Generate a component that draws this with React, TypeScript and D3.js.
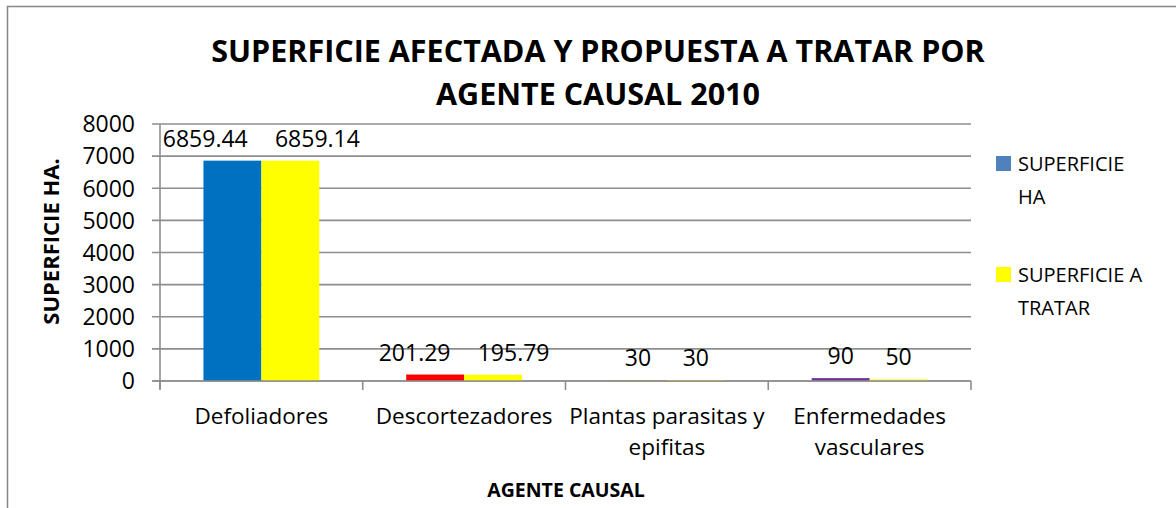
import React from "react";
import * as d3 from "d3";

const categories = [
  ["Defoliadores"],
  ["Descortezadores"],
  ["Plantas parasitas y", "epifitas"],
  ["Enfermedades", "vasculares"],
];
const seriesNames = [["SUPERFICIE", "HA"], ["SUPERFICIE A", "TRATAR"]];
const superficieHa = [6859.44, 201.29, 30, 90];
const superficieTratar = [6859.14, 195.79, 30, 50];
const labelsHa = ["6859.44", "201.29", "30", "90"];
const labelsTratar = ["6859.14", "195.79", "30", "50"];
const yTicks = [0, 1000, 2000, 3000, 4000, 5000, 6000, 7000, 8000];
const pointColorsHa = ["#0070C0", "#FF0000", "#C09A3C", "#7030A0"];
const seriesColors = ["#4F81BD", "#FFFF00"];

const W = 1176, H = 508;
const plot = { left: 160, right: 971, top: 124, bottom: 381 };
const FONT = "'Open Sans', sans-serif";

export default function App() {
  const x0 = d3.scaleBand<number>().domain(d3.range(categories.length)).range([plot.left, plot.right]).paddingInner(0).paddingOuter(0);
  const bw = x0.bandwidth();
  const barW = bw / 3.5;
  const y = d3.scaleLinear().domain([0, 8000]).range([plot.bottom, plot.top]);
  const grid = "#8E8E8E";
  const labelFs = 23;

  const estW = (s: string) => s.split("").reduce((a, c) => a + (c === "." ? 0.27 : 0.572), 0) * labelFs;

  const bars: any[] = [];
  const labels: any[] = [];
  categories.forEach((_, i) => {
    const c = (x0(i) as number) + bw / 2;
    const xa = c - barW, xb = c;
    bars.push({ x: xa, v: superficieHa[i], fill: pointColorsHa[i] });
    bars.push({ x: xb, v: superficieTratar[i], fill: seriesColors[1] });
    let ca = xa + barW / 2, cb = xb + barW / 2;
    const wa = estW(labelsHa[i]), wb = estW(labelsTratar[i]);
    const minGap = 27;
    const need = wa / 2 + wb / 2 + minGap;
    if (cb - ca < need) {
      const mid = (ca + cb) / 2;
      ca = mid - need / 2;
      cb = mid + need / 2;
    }
    labels.push({ x: ca, y: y(superficieHa[i]) - 14, t: labelsHa[i] });
    labels.push({ x: cb, y: y(superficieTratar[i]) - 14, t: labelsTratar[i] });
  });

  const catTicks = d3.range(categories.length + 1).map((i) => plot.left + i * bw);

  return (
    <svg width={W} height={H} style={{ position: "absolute", left: 0, top: 0, background: "#fff" }} fontFamily={FONT}>
      <rect x={0} y={0} width={W} height={H} fill="#fff" />
      <rect x={7.5} y={6.5} width={1300} height={700} fill="none" stroke="#868686" strokeWidth={1.5} />
      <text x={598} y={62} textAnchor="middle" fontSize={30.5} fontWeight="bold" fill="#000">SUPERFICIE AFECTADA Y PROPUESTA A TRATAR POR</text>
      <text x={598} y={105} textAnchor="middle" fontSize={30.5} fontWeight="bold" fill="#000">AGENTE CAUSAL 2010</text>

      {yTicks.map((t) => (
        <g key={t}>
          <line x1={plot.left - 8} x2={plot.right} y1={y(t)} y2={y(t)} stroke={grid} strokeWidth={1.6} />
          <text x={135} y={y(t)} dy="0.36em" textAnchor="end" fontSize={23} fill="#000">{t}</text>
        </g>
      ))}
      {bars.map((b, i) => (
        <rect key={i} x={b.x} y={y(b.v)} width={barW} height={plot.bottom - y(b.v)} fill={b.fill} />
      ))}
      <line x1={plot.left} x2={plot.left} y1={plot.top} y2={plot.bottom + 8} stroke={grid} strokeWidth={1.6} />
      <line x1={plot.left - 8} x2={plot.right} y1={plot.bottom} y2={plot.bottom} stroke={grid} strokeWidth={1.6} />
      {catTicks.map((t, i) => (
        <line key={i} x1={t} x2={t} y1={plot.bottom} y2={plot.bottom + 9} stroke={grid} strokeWidth={1.6} />
      ))}
      {labels.map((l, i) => (
        <text key={i} x={l.x} y={l.y} textAnchor="middle" fontSize={labelFs} fill="#000">{l.t}</text>
      ))}
      {categories.map((lines, i) => (
        <text key={i} x={(x0(i) as number) + bw / 2} y={424} textAnchor="middle" fontSize={22.5} fill="#000">
          {lines.map((ln, j) => (
            <tspan key={j} x={(x0(i) as number) + bw / 2} dy={j === 0 ? 0 : 31}>{ln}</tspan>
          ))}
        </text>
      ))}
      <text transform={`translate(59,${(plot.top + plot.bottom) / 2 - 11}) rotate(-90)`} textAnchor="middle" fontSize={22} fontWeight="bold" fill="#000">SUPERFICIE HA.</text>
      <text x={566} y={497} textAnchor="middle" fontSize={19.5} fontWeight="bold" fill="#000">AGENTE CAUSAL</text>

      {seriesNames.map((lines, i) => {
        const top = 156 + i * 111;
        return (
          <g key={i}>
            <rect x={996} y={top} width={15} height={15} fill={seriesColors[i]} />
            <text x={1018} y={top + 15} fontSize={20} fill="#000">
              {lines.map((ln, j) => (
                <tspan key={j} x={1018} dy={j === 0 ? 0 : 33}>{ln}</tspan>
              ))}
            </text>
          </g>
        );
      })}
    </svg>
  );
}
